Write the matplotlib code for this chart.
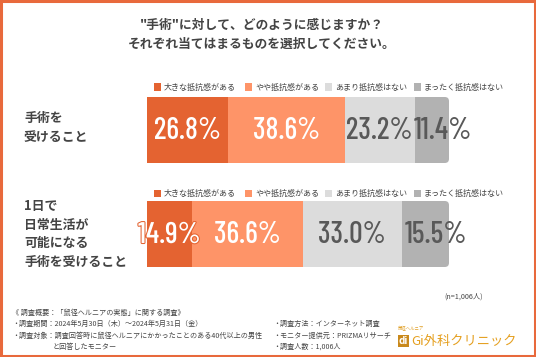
import matplotlib.pyplot as plt
import matplotlib.patheffects as pe
from matplotlib.patches import Rectangle, FancyBboxPatch

plt.rcParams['font.family'] = ['Noto Sans CJK JP', 'DejaVu Sans']

# data
title = '"手術"に対して、どのように感じますか？\nそれぞれ当てはまるものを選択してください。'
categories = ['手術を\n受けること', '1日で\n日常生活が\n可能になる\n手術を受けること']
answers = ['大きな抵抗感がある', 'やや抵抗感がある', 'あまり抵抗感はない', 'まったく抵抗感はない']
values = [
    [26.8, 38.6, 23.2, 11.4],
    [14.9, 36.6, 33.0, 15.5],
]
colors = ['#E46331', '#FE9468', '#DCDCDC', '#B2B2B2']
text_colors = ['white', 'white', '#595959', '#595959']

W, H = 536, 357
fig = plt.figure(figsize=(W / 100, H / 100), dpi=100)
fig.patch.set_facecolor('white')


def fx(x):
    return x / W


def fy(y):
    return 1 - y / H


# orange frame
fig.patches.append(Rectangle((0.002, 0.003), 0.996, 0.994, transform=fig.transFigure,
                             fill=False, edgecolor='#E8693C', linewidth=2.2))

# title
fig.text(fx(262), fy(35), title, ha='center', va='center', fontsize=9.2,
         fontweight='bold', color='#444444', linespacing=1.55)

# bar axes (y in pixel units)
ax = fig.add_axes([fx(147), fy(275), fx(302), 185 / H])
ax.set_xlim(0, 100)
ax.set_ylim(275, 90)
ax.axis('off')

bar_y = [130, 234]
bar_h = 66
label_y = [127, 234]
legend_y = [87, 193]
px_per_unit = 302 / 100
num_font = ['Barlow Condensed', 'Roboto', 'DejaVu Sans']

for i, row in enumerate(values):
    left = 0
    for j, v in enumerate(row):
        if j == len(row) - 1:
            # last segment with rounded right end
            patch = FancyBboxPatch((left - 3, bar_y[i] - bar_h / 2), v + 3, bar_h,
                                   boxstyle='round,pad=0,rounding_size=1.4',
                                   mutation_aspect=px_per_unit,
                                   facecolor=colors[j], edgecolor='none', zorder=1)
            ax.add_patch(patch)
        else:
            ax.barh(bar_y[i], v, left=left, height=bar_h, color=colors[j],
                    edgecolor='none', zorder=2)
        cx = left + v / 2
        if j == len(row) - 1:
            cx += 3.6
        t = ax.text(cx, bar_y[i] + 1, f'{v:.1f}%', ha='center', va='center',
                    fontsize=21.5, fontweight=500, color=text_colors[j], zorder=3,
                    family=num_font)
        if v < 16 and j == 0:
            t.set_path_effects([pe.withStroke(linewidth=1.5, foreground='#E46331')])
        left += v

    # row label
    fig.text(fx(24), fy(label_y[i]), categories[i], ha='left', va='center',
             fontsize=9.3, fontweight='bold', color='#444444', linespacing=1.45)

    # legend above each bar
    sq_x = [154, 245, 325, 414]
    for k, name in enumerate(answers):
        fig.patches.append(Rectangle((fx(sq_x[k]), fy(legend_y[i] + 3.5)), fx(7), 7 / H,
                                     transform=fig.transFigure, facecolor=colors[k],
                                     edgecolor='none'))
        fig.text(fx(sq_x[k] + 10), fy(legend_y[i]), name, ha='left', va='center',
                 fontsize=5.8, color='#444444')

# sample size
fig.text(fx(483), fy(297), '(n=1,006人)', ha='right', va='center', fontsize=5.2, color='#444444')

# footer
fs = 5.1
fig.text(fx(12), fy(313), '《 調査概要：「鼠径ヘルニアの実態」に関する調査》', ha='left', va='center', fontsize=fs, color='#444444')
fig.text(fx(12), fy(324), '・調査期間：2024年5月30日（木）～2024年5月31日（金）', ha='left', va='center', fontsize=fs, color='#444444')
fig.text(fx(12), fy(336), '・調査対象：調査回答時に鼠径ヘルニアにかかったことのある40代以上の男性', ha='left', va='center', fontsize=fs, color='#444444')
fig.text(fx(53), fy(347), 'と回答したモニター', ha='left', va='center', fontsize=fs, color='#444444')
fig.text(fx(273), fy(324), '・調査方法：インターネット調査', ha='left', va='center', fontsize=fs, color='#444444')
fig.text(fx(273), fy(336), '・モニター提供元：PRIZMAリサーチ', ha='left', va='center', fontsize=fs, color='#444444')
fig.text(fx(273), fy(347), '・調査人数：1,006人', ha='left', va='center', fontsize=fs, color='#444444')

# clinic logo
fig.patches.append(Rectangle((fx(398), fy(347)), fx(11), 12 / H, transform=fig.transFigure,
                             facecolor='#C9891C', edgecolor='none'))
fig.text(fx(403.5), fy(341), 'di', ha='center', va='center', fontsize=7, fontweight='bold',
         style='italic', color='white')
fig.text(fx(398), fy(328), '鼠径ヘルニア', ha='left', va='center', fontsize=3.2, color='#E0A028')
fig.text(fx(411), fy(341), 'Gi外科クリニック', ha='left', va='center', fontsize=9.5, color='#E5A020')

fig.savefig('out.png', dpi=100, facecolor='white')
